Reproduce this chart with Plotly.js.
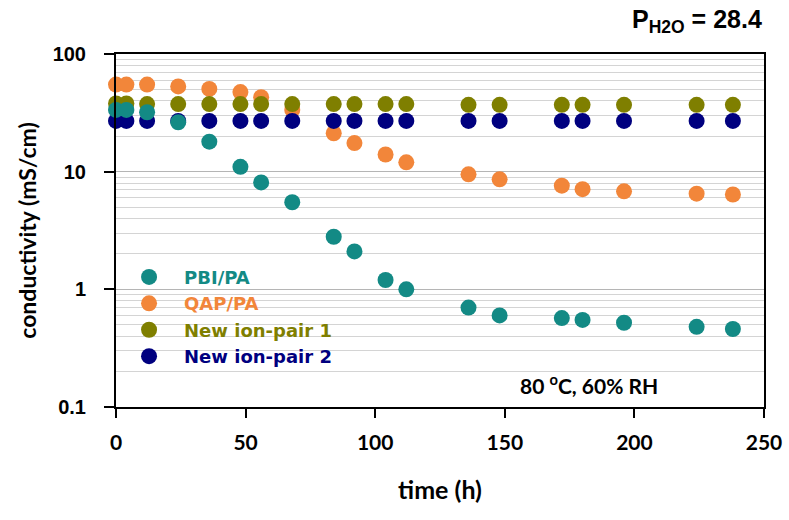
<!DOCTYPE html>
<html>
<head>
<meta charset="utf-8">
<script src="https://cdn.plot.ly/plotly-3.0.1.min.js"></script>
<style>html,body{margin:0;padding:0;background:#fff;}#chart{width:789px;height:520px;}</style>
</head>
<body>
<div id="chart"></div>
<script>
// time points (h)
var timeH = [0, 4, 12, 24, 36, 48, 56, 68, 84, 92, 104, 112, 136, 148, 172, 180, 196, 224, 238];
// conductivity (mS/cm)
var pbiPA   = [33.5, 33.5, 32, 26.3, 18, 11, 8.1, 5.5, 2.8, 2.1, 1.2, 1.0, 0.70, 0.60, 0.57, 0.55, 0.52, 0.48, 0.46];
var qapPA   = [55, 55, 55, 53, 50.5, 47.5, 43, 33.5, 21.2, 17.5, 14, 12, 9.5, 8.6, 7.6, 7.1, 6.8, 6.5, 6.4];
var ionPair1 = [38, 38, 37.5, 37.5, 37.5, 37.5, 37.5, 37.5, 37.5, 37.5, 37.5, 37.5, 37, 37, 37, 37, 37, 37, 37];
var ionPair2 = [27, 27, 27, 27, 27, 27, 27, 27, 27, 27, 27, 27, 27, 27, 27, 27, 27, 27, 27];
var seriesNames = ['PBI/PA', 'QAP/PA', 'New ion-pair 1', 'New ion-pair 2'];
var seriesColors = ['#138a85', '#f2863a', '#7f7f00', '#00007f'];
var yTickVals = [0.1, 1, 10, 100];
var yTickText = ['0.1', '1', '10', '100'];
var xTickVals = [0, 50, 100, 150, 200, 250];

var seriesData = [pbiPA, qapPA, ionPair1, ionPair2];
// drawing order: QAP, ion-pair 1, ion-pair 2, PBI on top
var drawOrder = [1, 2, 3, 0];
var traces = drawOrder.map(function (i) {
  return {
    x: timeH,
    y: seriesData[i],
    type: 'scatter',
    mode: 'markers',
    name: '<span style="color:' + seriesColors[i] + '">' + seriesNames[i] + '</span>',
    legendrank: i + 1,
    marker: { color: seriesColors[i], size: 16, line: { width: 0 } },
    cliponaxis: false
  };
});

var layout = {
  width: 789, height: 520,
  margin: { l: 116, r: 25, t: 54, b: 113 },
  paper_bgcolor: '#ffffff',
  plot_bgcolor: '#ffffff',
  showlegend: true,
  legend: {
    x: -0.003, y: 0.42, xanchor: 'left', yanchor: 'top',
    bgcolor: 'rgba(0,0,0,0)',
    font: { family: 'DejaVu Sans, sans-serif', size: 18, weight: 'bold' },
    itemwidth: 60,
    tracegroupgap: 0
  },
  xaxis: {
    range: [0, 250],
    tickvals: xTickVals,
    ticks: 'outside', ticklen: 9, tickwidth: 2, tickcolor: '#000',
    ticklabelstandoff: 7,
    showline: true, linecolor: '#000', linewidth: 2, mirror: true,
    showgrid: false, zeroline: false,
    tickfont: { family: 'Lato, sans-serif', size: 21, color: '#000', weight: 'bold' },
    title: { text: 'time (h)', font: { family: 'Lato, sans-serif', size: 25, color: '#000', weight: 'bold' }, standoff: 28 }
  },
  yaxis: {
    type: 'log',
    range: [-1, 2],
    tickvals: yTickVals,
    ticktext: yTickText,
    ticks: 'outside', ticklen: 10, tickwidth: 2, tickcolor: '#000',
    ticklabelstandoff: 14,
    showline: true, linecolor: '#000', linewidth: 2, mirror: true,
    showgrid: true, gridcolor: '#b5b5b5', gridwidth: 1.5,
    zeroline: false,
    minor: { dtick: 'D1', showgrid: true, gridcolor: '#d4d4d4', gridwidth: 1, ticks: '' },
    tickfont: { family: 'Liberation Sans, Arial, sans-serif', size: 20, color: '#000', weight: 'bold' },
    title: { text: 'conductivity (mS/cm)', font: { family: 'Lato, sans-serif', size: 23, color: '#000', weight: 'bold' }, standoff: 10 }
  },
  annotations: [
    {
      xref: 'paper', yref: 'paper', x: 1, y: 1.043, xanchor: 'right', yanchor: 'bottom',
      text: 'P<sub>H2O</sub> = 28.4', showarrow: false,
      font: { family: 'Liberation Sans, Arial, sans-serif', size: 25, color: '#000', weight: 'bold' }
    },
    {
      xref: 'paper', yref: 'paper', x: 0.73, y: 0.066, xanchor: 'center', yanchor: 'middle',
      text: '80 <sup>o</sup>C, 60% RH', showarrow: false,
      font: { family: 'Lato, sans-serif', size: 21, color: '#000', weight: 'bold' }
    }
  ]
};

Plotly.newPlot('chart', traces, layout, { displayModeBar: false, staticPlot: true });
</script>
</body>
</html>
